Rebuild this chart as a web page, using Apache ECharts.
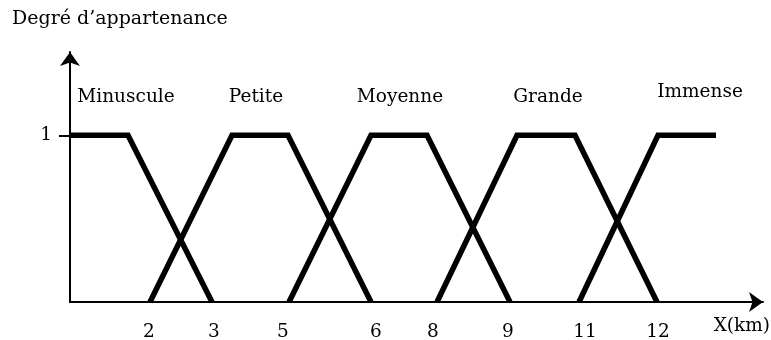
<!DOCTYPE html>
<html>
<head>
<meta charset="utf-8">
<script src="https://cdn.jsdelivr.net/npm/echarts@6/dist/echarts.min.js"></script>
<style>
  html, body { margin: 0; padding: 0; background: #fff; }
  #chart { width: 771px; height: 340px; }
</style>
</head>
<body>
<div id="chart"></div>
<script>
// x is a schematic position along the axis (the figure is not to scale)
var minuscule = [[0, 1], [58, 1], [142, 0]];
var petite = [[80, 0], [162, 1], [218, 1], [301, 0]];
var moyenne = [[219, 0], [301, 1], [357, 1], [440, 0]];
var grande = [[367, 0], [447, 1], [505, 1], [587, 0]];
var immense = [[509, 0], [588, 1], [646, 1]];

// tick labels (km) and where they sit on the axis
var kmLabels = ['2', '3', '5', '6', '8', '9', '11', '12'];
var kmPos = [79, 144, 213, 306, 363, 438, 515, 588];

var setNames = ['Minuscule', 'Petite', 'Moyenne', 'Grande', 'Immense'];
var setNameX = [56, 186, 330, 478, 630];
var setNameY = [1.23, 1.23, 1.23, 1.23, 1.26];

var serif = '"DejaVu Serif", "Liberation Serif", serif';

function fuzzySet(name, d) {
  return {
    name: name,
    type: 'line',
    data: d,
    symbol: 'none',
    lineStyle: { color: '#000', width: 5.5, join: 'miter', cap: 'butt' },
    z: 3
  };
}

var option = {
  backgroundColor: '#fff',
  animation: false,
  title: [
    {
      text: 'Degré d’appartenance',
      left: 12, top: 10, padding: 0,
      textStyle: { fontFamily: serif, fontSize: 19, fontWeight: 'normal', color: '#000' }
    },
    {
      text: 'X(km)',
      right: 1, top: 317, padding: 0,
      textStyle: { fontFamily: serif, fontSize: 18.5, fontWeight: 'normal', color: '#000' }
    }
  ],
  grid: { left: 70, right: 8, top: 52, bottom: 38, outerBoundsMode: 'none' },
  xAxis: {
    type: 'value',
    min: 0, max: 693,
    splitLine: { show: false },
    axisTick: { show: false },
    axisLine: {
      show: true,
      symbol: ['none', 'arrow'],
      symbolSize: [15, 14],
      lineStyle: { color: '#000', width: 2 }
    },
    axisLabel: {
      customValues: kmPos,
      margin: 21,
      fontFamily: serif, fontSize: 18.5, color: '#000',
      formatter: function (v) {
        var i = kmPos.indexOf(v);
        return i >= 0 ? kmLabels[i] : '';
      }
    }
  },
  yAxis: {
    type: 'value',
    min: 0, max: 1.5,
    splitLine: { show: false },
    axisLine: {
      show: true,
      symbol: ['none', 'arrow'],
      symbolSize: [15, 14],
      lineStyle: { color: '#000', width: 2 }
    },
    axisTick: {
      show: true,
      customValues: [1],
      length: 11,
      lineStyle: { color: '#000', width: 2 }
    },
    axisLabel: {
      customValues: [1],
      margin: 18,
      fontFamily: serif, fontSize: 18.5, color: '#000'
    }
  },
  series: [
    fuzzySet('Minuscule', minuscule),
    fuzzySet('Petite', petite),
    fuzzySet('Moyenne', moyenne),
    fuzzySet('Grande', grande),
    fuzzySet('Immense', immense),
    {
      type: 'scatter',
      symbolSize: 0,
      itemStyle: { opacity: 1 },
      data: setNames.map(function (n, i) {
        return { name: n, value: [setNameX[i], setNameY[i]] };
      }),
      label: {
        show: true,
        position: 'inside',
        formatter: '{b}',
        fontFamily: serif, fontSize: 18.5, color: '#000',
        textBorderWidth: 0
      }
    }
  ]
};

var chart = echarts.init(document.getElementById('chart'));
chart.setOption(option);
</script>
</body>
</html>
